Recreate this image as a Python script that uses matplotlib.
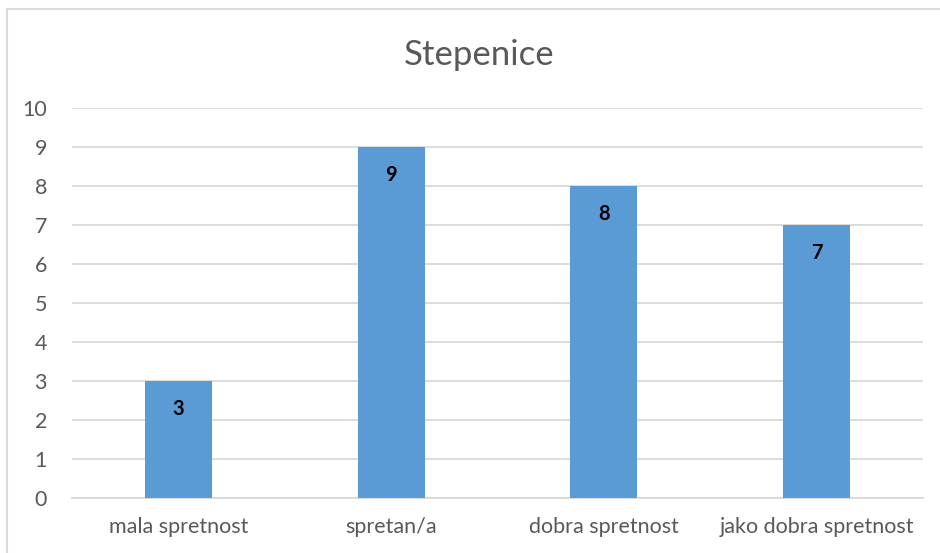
import matplotlib.pyplot as plt
from matplotlib.patches import Rectangle

# === DATA ===
categories = ["mala spretnost", "spretan/a", "dobra spretnost", "jako dobra spretnost"]
values = [3, 9, 8, 7]
title = "Stepenice"
y_ticks = list(range(0, 11))

# === STYLE ===
plt.rcParams["font.family"] = ["Lato", "DejaVu Sans"]
BAR_COLOR = "#5B9BD5"
GRID_COLOR = "#D9D9D9"
TEXT_COLOR = "#595959"

W, H = 940, 553
fig = plt.figure(figsize=(W / 100, H / 100), dpi=100)
ax = fig.add_axes([72 / W, 1 - 498 / H, (923 - 72) / W, (498 - 108) / H])

x = list(range(len(categories)))
bars = ax.bar(x, values, width=0.315, color=BAR_COLOR, zorder=3)

ax.set_xlim(-0.5, len(categories) - 0.5)
ax.set_ylim(0, 10)
ax.set_yticks(y_ticks)
ax.set_xticks(x)
ax.set_xticklabels(categories)
ax.grid(axis="y", color=GRID_COLOR, linewidth=1.3, zorder=0)
ax.tick_params(axis="both", length=0, colors=TEXT_COLOR, labelsize=15.5)
ax.tick_params(axis="y", pad=18)
ax.tick_params(axis="x", pad=14)
for s in ["top", "right", "left"]:
    ax.spines[s].set_visible(False)
ax.spines["bottom"].set_color(GRID_COLOR)
ax.spines["bottom"].set_linewidth(1.3)

for b, v in zip(bars, values):
    ax.text(b.get_x() + b.get_width() / 2, v - 0.72, str(v), ha="center", va="center",
            fontsize=14.5, fontweight="bold", color="black", zorder=4)

fig.text(479 / W, 1 - 55 / H, title, ha="center", va="center", fontsize=25, color=TEXT_COLOR)

# chart frame
fig.patches.append(Rectangle((7 / W, -0.05), 1.1, 1 - 9 / H + 0.05, transform=fig.transFigure,
                             fill=False, edgecolor=GRID_COLOR, linewidth=1.5))

fig.savefig("out.png", dpi=100)
